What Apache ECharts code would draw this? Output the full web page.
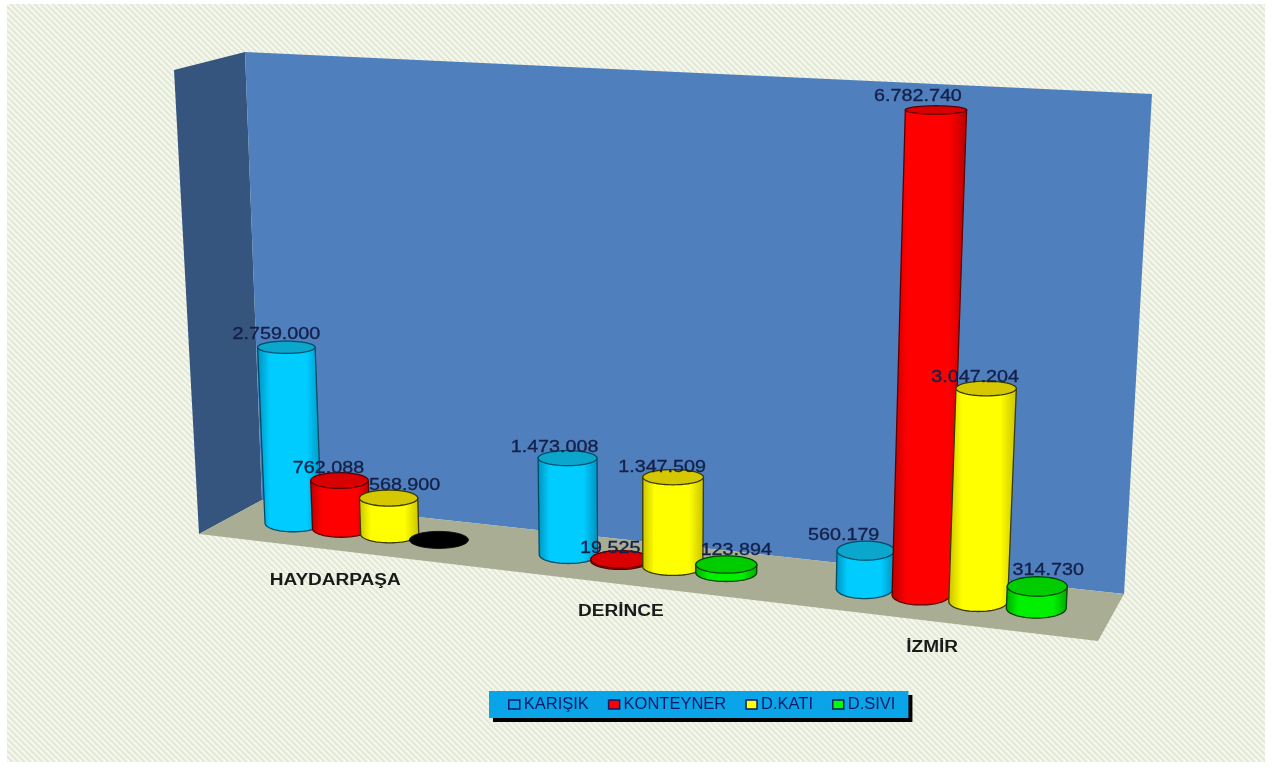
<!DOCTYPE html>
<html><head><meta charset="utf-8">
<style>html,body{margin:0;padding:0;background:#fff}#c{width:1273px;height:771px}</style>
<script src="https://cdn.jsdelivr.net/npm/echarts@6/dist/echarts.min.js"></script>
</head><body><div id="c"></div>
<script>
// ---- data ----
const categories = ['HAYDARPAŞA', 'DERİNCE', 'İZMİR'];
const seriesNames = ['KARIŞIK', 'KONTEYNER', 'D.KATI', 'D.SIVI'];
const karisik   = [2759000, 1473008, 560179];
const konteyner = [762088, 19525, 6782740];
const dKati     = [568900, 1347509, 3047204];
const dSivi     = [0, 123894, 314730];
const valueMax = 7000000;

// ---- layout / style (not data) ----
const allValues = [karisik, konteyner, dKati, dSivi];
const labelNudge = [
  [[-10,-13],[-13,-11],[-22,-15]],
  [[-11,-12],[-10,-11],[-18,-14]],
  [[16,-13],[-11,-10],[-11,-11]],
  [[0,0],[10,-14],[11,-16]]
];
const categoryNudge = [[-31,61],[-26,60],[-19.5,61]];
const groupShift = [-1,-0.5,-2];
const radiusFactor = [1.07,1.02,0.92];
const ellipseDepth = [8.5,8.8,10];
const palette = [
  {edge:'#0090bc', main:'#00ccff', top:'#0aa6cc', line:'#004d66', legend:'#09a5e8'},
  {edge:'#b80000', main:'#ff0000', top:'#d80000', line:'#5a0000', legend:'#ff0000'},
  {edge:'#c8c000', main:'#ffff00', top:'#d6c800', line:'#3a3a00', legend:'#ffff00'},
  {edge:'#00a800', main:'#00f000', top:'#00cc00', line:'#004400', legend:'#00ff00'}
];
const G = {left:200, top:100, width:900, height:500};
// projected corners of the plane through the bars: s,t unit square -> screen
const Q = {bl:[234,516.5], br:[1114,617], tr:[1141,103], tl:[213,60]};

function homography(q){
  const [x0,y0]=q.bl,[x1,y1]=q.br,[x2,y2]=q.tr,[x3,y3]=q.tl;
  const dx1=x1-x2,dx2=x3-x2,sx=x0-x1+x2-x3,dy1=y1-y2,dy2=y3-y2,sy=y0-y1+y2-y3;
  const d=dx1*dy2-dx2*dy1;
  const g=(sx*dy2-dx2*sy)/d,h=(dx1*sy-sx*dy1)/d;
  const a=x1-x0+g*x1,b=x3-x0+h*x3,c=x0,e=y1-y0+g*y1,f=y3-y0+h*y3,k=y0;
  return (s,t)=>{const w=g*s+h*t+1;return [(a*s+b*t+c)/w,(e*s+f*t+k)/w];};
}
const H = homography(Q);
const project = (px,py)=>H((px-G.left)/G.width,(G.top+G.height-py)/G.height);
const fmt = v=>String(v).replace(/\B(?=(\d{3})+$)/g,'.');

function ellipsePts(cx,cy,rx,ry,a0,a1,n){
  const out=[];
  for(let i=0;i<=n;i++){const a=a0+(a1-a0)*i/n;out.push([cx+rx*Math.cos(a),cy+ry*Math.sin(a)]);}
  return out;
}
const labelFont = '17px "Liberation Sans", Arial, sans-serif';

function barRenderer(j){
  return function(params, api){
    const i=api.value(0), v=api.value(1);
    const band=api.size([1,0])[0];
    const offset=(j-1.5)*0.18*band+groupShift[i], r=0.1*band*radiusFactor[i];
    const b=api.coord([i,0]), t=api.coord([i,v]);
    const fx=b[0]+offset;
    const frac=v/valueMax;
    const bc=project(fx,b[1]), tc=project(fx,t[1]);
    const bl=project(fx-r,b[1]), br=project(fx+r,b[1]);
    const tl=project(fx-r,t[1]), tr=project(fx+r,t[1]);
    const rxB=(br[0]-bl[0])/2, rxT=(tr[0]-tl[0])/2;
    const ryB=ellipseDepth[i], ryT=ellipseDepth[i]-6*frac;
    const p=palette[j], children=[];
    const lw=1.3;
    if(v===0){
      children.push({type:'polygon',shape:{points:ellipsePts(bc[0],bc[1],rxB,ryB,0,Math.PI*2,48)},
        style:{fill:'#000',stroke:'#111',lineWidth:1}});
    } else {
      const pts=[[tc[0]-rxT,tc[1]],...ellipsePts(bc[0],bc[1],rxB,ryB,Math.PI,0,32),[tc[0]+rxT,tc[1]]];
      children.push({type:'polygon',shape:{points:pts},style:{
        fill:new echarts.graphic.LinearGradient(0,0,1,0,[
          {offset:0,color:p.edge},{offset:0.2,color:p.main},{offset:0.76,color:p.main},{offset:1,color:p.edge}]),
        stroke:p.line,lineWidth:lw}});
      children.push({type:'polygon',shape:{points:ellipsePts(tc[0],tc[1],rxT,ryT,0,Math.PI*2,48)},
        style:{fill:p.top,stroke:p.line,lineWidth:lw}});
      const n=labelNudge[j][i];
      children.push({type:'text',x:tc[0]+n[0],y:tc[1]+n[1],scaleX:1.16,z2:100,
        style:{text:fmt(v),font:labelFont,fill:'#14204a',stroke:'#14204a',lineWidth:0.35,align:'center',verticalAlign:'middle'}});
    }
    return {type:'group',children};
  };
}

function hatch(){
  const c=document.createElement('canvas');c.width=6;c.height=6;
  const x=c.getContext('2d');
  for(let a=0;a<6;a++)for(let b=0;b<6;b++){
    const k=((a-b+6)%6);
    x.fillStyle=k<2?'#e2e9d5':(k<3||k===5?'#ecf0e3':'#f6f8f0');
    x.fillRect(a,b,1,1);
  }
  return c;
}

const seriesList = seriesNames.map((name,j)=>({
  type:'custom', name, silent:true, animation:false, clip:false,
  coordinateSystem:'cartesian2d',
  itemStyle:{color:palette[j].legend},
  encode:{x:0,y:1},
  data:allValues[j].map((v,i)=>[i,v]),
  renderItem:barRenderer(j)
}));
seriesList.push({
  type:'custom', name:'categoryLabels', silent:true, animation:false, clip:false,
  coordinateSystem:'cartesian2d', encode:{x:0,y:1},
  data:categories.map((c,i)=>[i,0]),
  renderItem:function(params,api){
    const i=api.value(0), b=api.coord([i,0]), n=categoryNudge[i];
    const p=project(b[0],b[1]);
    return {type:'text',x:p[0]+n[0],y:p[1]+n[1]-12,scaleX:1.19,z2:100,
      style:{text:categories[i],font:'bold 16px "Liberation Sans", Arial, sans-serif',fill:'#1a1a1a',align:'center',verticalAlign:'middle'}};
  }
});

const chart = echarts.init(document.getElementById('c'),null,{renderer:'canvas'});
chart.setOption({
  animation:false,
  backgroundColor:'#ffffff',
  grid:G,
  xAxis:{type:'category',data:categories,show:false},
  yAxis:{type:'value',min:0,max:valueMax,interval:1000000,show:false},
  legend:{
    data:seriesNames, left:489, top:691,
    orient:'horizontal', icon:'rect', itemWidth:11, itemHeight:9, itemGap:19,
    padding:[5,13,5,19], backgroundColor:'#09a5e8',
    shadowColor:'#000', shadowBlur:0, shadowOffsetX:4, shadowOffsetY:4,
    selectedMode:false,
    itemStyle:{borderColor:'#0a1a66',borderWidth:1.5},
    textStyle:{color:'#0a1a66',fontFamily:'"Liberation Sans", Arial, sans-serif',fontSize:16.5,padding:[0,0,0,-1]}
  },
  graphic:[
    {type:'rect',z:-10,silent:true,shape:{x:7,y:4,width:1258,height:758},style:{fill:{image:hatch(),repeat:'repeat'}}},
    {type:'polygon',z:-9,silent:true,shape:{points:[[174,70],[245,52],[262,500],[199,534]]},style:{fill:'#35557f'}},
    {type:'polygon',z:-9,silent:true,shape:{points:[[245,52],[1152,94],[1124,594],[262,500]]},style:{fill:'#4f80bd'}},
    {type:'polygon',z:-9,silent:true,shape:{points:[[262,500],[1124,594],[1098,641],[199,534]]},style:{fill:'#a9ad94'}}
  ],
  series:seriesList
});
</script></body></html>
